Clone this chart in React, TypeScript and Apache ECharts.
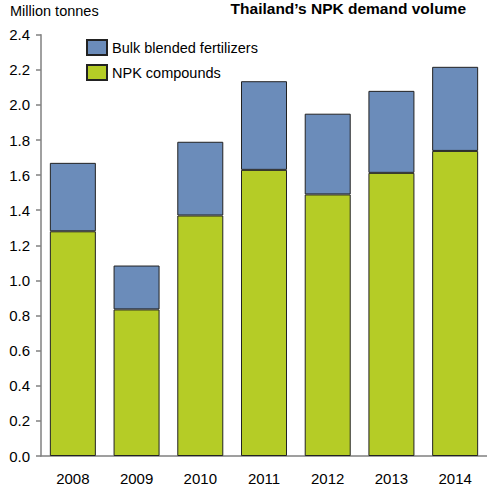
import React, { useEffect, useRef } from "react";
import * as echarts from "echarts";

const years = ["2008", "2009", "2010", "2011", "2012", "2013", "2014"];
const npkCompounds = [1.28, 0.835, 1.37, 1.63, 1.49, 1.613, 1.738];
const bulkBlended = [0.39, 0.25, 0.42, 0.505, 0.46, 0.467, 0.479];
const yTicks = { min: 0, max: 2.4, interval: 0.2 };

export default function App() {
  const ref = useRef<HTMLDivElement>(null);
  useEffect(() => {
    document.body.style.margin = "0";
    if (!ref.current) return;
    const chart = echarts.init(ref.current, null, { renderer: "svg" });
    const font = "Liberation Sans, Arial, sans-serif";
    chart.setOption({
      animation: false,
      textStyle: { fontFamily: font },
      title: [
        {
          text: "Thailand\u2019s NPK demand volume",
          right: 21,
          top: 0,
          padding: 0,
          textStyle: { fontSize: 15.5, fontWeight: "bold", color: "#000", fontFamily: font },
        },
        {
          text: "Million tonnes",
          left: 10,
          top: 3,
          padding: 0,
          textStyle: { fontSize: 14.5, fontWeight: "normal", color: "#000", fontFamily: font },
        },
      ],
      legend: {
        orient: "vertical",
        left: 86,
        top: 39,
        padding: 0,
        itemWidth: 20,
        itemHeight: 15,
        itemGap: 8,
        data: ["Bulk blended fertilizers", "NPK compounds"],
        textStyle: { fontSize: 14.5, color: "#000", fontFamily: font },
        icon: "rect",
      },
      grid: { left: 41, top: 34.7, width: 455, bottom: 33, containLabel: false },
      xAxis: {
        type: "category",
        data: years,
        axisLine: { lineStyle: { color: "#808080", width: 1.5 } },
        axisTick: { show: false },
        axisLabel: { color: "#000", fontSize: 15, margin: 15, fontFamily: font },
      },
      yAxis: {
        type: "value",
        min: yTicks.min,
        max: yTicks.max,
        interval: yTicks.interval,
        splitLine: { show: false },
        axisLine: { show: true, lineStyle: { color: "#808080", width: 1.5 } },
        axisTick: { show: true, length: 5, lineStyle: { color: "#808080", width: 1.5 } },
        axisLabel: {
          color: "#000",
          fontSize: 15,
          margin: 11,
          fontFamily: font,
          formatter: (v: number) => v.toFixed(1),
        },
      },
      series: [
        {
          name: "NPK compounds",
          type: "bar",
          stack: "total",
          data: npkCompounds,
          barWidth: 46,
          itemStyle: { color: "#B5CC26", borderColor: "#222", borderWidth: 1 },
        },
        {
          name: "Bulk blended fertilizers",
          type: "bar",
          stack: "total",
          data: bulkBlended,
          barWidth: 46,
          itemStyle: { color: "#6B8CBA", borderColor: "#222", borderWidth: 1 },
        },
      ],
    });
    return () => chart.dispose();
  }, []);
  return <div ref={ref} style={{ width: 487, height: 489 }} />;
}
